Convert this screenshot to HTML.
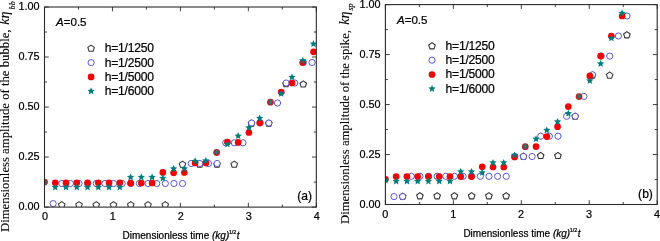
<!DOCTYPE html>
<html><head><meta charset="utf-8"><style>
html,body{margin:0;padding:0;background:#fff;}
body{width:660px;height:241px;overflow:hidden;}
svg{display:block;}
svg{will-change:transform;}
text{font-family:"Liberation Sans",sans-serif;fill:#000;stroke:#000;stroke-width:0.22px;}
.tl{font-size:10.85px;}
.lg{font-size:12.1px;letter-spacing:-0.22px;}
.an{font-size:11.6px;letter-spacing:-0.05px;}
.tag{font-size:12.1px;}
.xl{font-size:10px;}
.sup{font-size:5.7px;letter-spacing:-0.2px;}
.yl{font-family:"Liberation Serif",serif;font-size:12.6px;stroke-width:0.08px;}
.yk{font-family:"Liberation Serif",serif;font-style:italic;font-size:14.0px;stroke-width:0.12px;}
.ys{font-family:"Liberation Serif",serif;font-style:italic;font-size:8.2px;stroke-width:0.15px;}
</style></head><body>
<svg width="660" height="241" viewBox="0 0 660 241">
<rect width="660" height="241" fill="#fff"/>
<clipPath id="clipL"><rect x="44.50" y="7.00" width="271.80" height="200.10"/></clipPath>
<path d="M44.50 207.10V202.80M44.50 7.00V11.30M78.47 207.10V204.60M78.47 7.00V9.50M112.45 207.10V202.80M112.45 7.00V11.30M146.43 207.10V204.60M146.43 7.00V9.50M180.40 207.10V202.80M180.40 7.00V11.30M214.38 207.10V204.60M214.38 7.00V9.50M248.35 207.10V202.80M248.35 7.00V11.30M282.33 207.10V204.60M282.33 7.00V9.50M316.30 207.10V202.80M316.30 7.00V11.30M44.50 207.10H48.80M316.30 207.10H312.00M44.50 182.09H47.00M316.30 182.09H313.80M44.50 157.07H48.80M316.30 157.07H312.00M44.50 132.06H47.00M316.30 132.06H313.80M44.50 107.05H48.80M316.30 107.05H312.00M44.50 82.04H47.00M316.30 82.04H313.80M44.50 57.03H48.80M316.30 57.03H312.00M44.50 32.01H47.00M316.30 32.01H313.80M44.50 7.00H48.80M316.30 7.00H312.00" stroke="#2a2a2a" stroke-width="0.9" fill="none"/>
<g clip-path="url(#clipL)">
<polygon points="61.75,201.55 65.03,203.93 63.78,207.79 59.72,207.79 58.47,203.93" fill="#fff" stroke="#303030" stroke-width="1.05" stroke-linejoin="round"/>
<polygon points="79.00,201.55 82.28,203.93 81.03,207.79 76.97,207.79 75.72,203.93" fill="#fff" stroke="#303030" stroke-width="1.05" stroke-linejoin="round"/>
<polygon points="96.25,201.55 99.53,203.93 98.28,207.79 94.22,207.79 92.97,203.93" fill="#fff" stroke="#303030" stroke-width="1.05" stroke-linejoin="round"/>
<polygon points="113.50,201.55 116.78,203.93 115.53,207.79 111.47,207.79 110.22,203.93" fill="#fff" stroke="#303030" stroke-width="1.05" stroke-linejoin="round"/>
<polygon points="130.75,201.55 134.03,203.93 132.78,207.79 128.72,207.79 127.47,203.93" fill="#fff" stroke="#303030" stroke-width="1.05" stroke-linejoin="round"/>
<polygon points="148.00,201.55 151.28,203.93 150.03,207.79 145.97,207.79 144.72,203.93" fill="#fff" stroke="#303030" stroke-width="1.05" stroke-linejoin="round"/>
<polygon points="165.25,201.55 168.53,203.93 167.28,207.79 163.22,207.79 161.97,203.93" fill="#fff" stroke="#303030" stroke-width="1.05" stroke-linejoin="round"/>
<polygon points="182.50,161.05 185.78,163.43 184.53,167.29 180.47,167.29 179.22,163.43" fill="#fff" stroke="#303030" stroke-width="1.05" stroke-linejoin="round"/>
<polygon points="199.75,161.05 203.03,163.43 201.78,167.29 197.72,167.29 196.47,163.43" fill="#fff" stroke="#303030" stroke-width="1.05" stroke-linejoin="round"/>
<polygon points="217.00,161.05 220.28,163.43 219.03,167.29 214.97,167.29 213.72,163.43" fill="#fff" stroke="#303030" stroke-width="1.05" stroke-linejoin="round"/>
<polygon points="234.25,161.05 237.53,163.43 236.28,167.29 232.22,167.29 230.97,163.43" fill="#fff" stroke="#303030" stroke-width="1.05" stroke-linejoin="round"/>
<polygon points="251.50,120.05 254.78,122.43 253.53,126.29 249.47,126.29 248.22,122.43" fill="#fff" stroke="#303030" stroke-width="1.05" stroke-linejoin="round"/>
<polygon points="268.75,120.05 272.03,122.43 270.78,126.29 266.72,126.29 265.47,122.43" fill="#fff" stroke="#303030" stroke-width="1.05" stroke-linejoin="round"/>
<polygon points="286.00,80.55 289.28,82.93 288.03,86.79 283.97,86.79 282.72,82.93" fill="#fff" stroke="#303030" stroke-width="1.05" stroke-linejoin="round"/>
<polygon points="303.25,80.85 306.53,83.23 305.28,87.09 301.22,87.09 299.97,83.23" fill="#fff" stroke="#303030" stroke-width="1.05" stroke-linejoin="round"/>
<circle cx="53.13" cy="203.60" r="3.10" fill="#fff" stroke="#4646c8" stroke-width="0.9"/>
<circle cx="61.76" cy="183.50" r="3.10" fill="#fff" stroke="#4646c8" stroke-width="0.9"/>
<circle cx="70.39" cy="183.50" r="3.10" fill="#fff" stroke="#4646c8" stroke-width="0.9"/>
<circle cx="79.02" cy="183.50" r="3.10" fill="#fff" stroke="#4646c8" stroke-width="0.9"/>
<circle cx="87.65" cy="183.50" r="3.10" fill="#fff" stroke="#4646c8" stroke-width="0.9"/>
<circle cx="96.28" cy="183.50" r="3.10" fill="#fff" stroke="#4646c8" stroke-width="0.9"/>
<circle cx="104.91" cy="183.50" r="3.10" fill="#fff" stroke="#4646c8" stroke-width="0.9"/>
<circle cx="113.54" cy="183.50" r="3.10" fill="#fff" stroke="#4646c8" stroke-width="0.9"/>
<circle cx="122.17" cy="183.50" r="3.10" fill="#fff" stroke="#4646c8" stroke-width="0.9"/>
<circle cx="130.80" cy="183.50" r="3.10" fill="#fff" stroke="#4646c8" stroke-width="0.9"/>
<circle cx="139.43" cy="183.50" r="3.10" fill="#fff" stroke="#4646c8" stroke-width="0.9"/>
<circle cx="148.06" cy="183.50" r="3.10" fill="#fff" stroke="#4646c8" stroke-width="0.9"/>
<circle cx="156.69" cy="183.50" r="3.10" fill="#fff" stroke="#4646c8" stroke-width="0.9"/>
<circle cx="165.32" cy="183.50" r="3.10" fill="#fff" stroke="#4646c8" stroke-width="0.9"/>
<circle cx="173.95" cy="183.50" r="3.10" fill="#fff" stroke="#4646c8" stroke-width="0.9"/>
<circle cx="182.58" cy="183.50" r="3.10" fill="#fff" stroke="#4646c8" stroke-width="0.9"/>
<circle cx="191.21" cy="163.50" r="3.10" fill="#fff" stroke="#4646c8" stroke-width="0.9"/>
<circle cx="199.84" cy="163.50" r="3.10" fill="#fff" stroke="#4646c8" stroke-width="0.9"/>
<circle cx="208.47" cy="163.50" r="3.10" fill="#fff" stroke="#4646c8" stroke-width="0.9"/>
<circle cx="217.10" cy="163.50" r="3.10" fill="#fff" stroke="#4646c8" stroke-width="0.9"/>
<circle cx="225.73" cy="142.80" r="3.10" fill="#fff" stroke="#4646c8" stroke-width="0.9"/>
<circle cx="234.36" cy="142.80" r="3.10" fill="#fff" stroke="#4646c8" stroke-width="0.9"/>
<circle cx="242.99" cy="142.80" r="3.10" fill="#fff" stroke="#4646c8" stroke-width="0.9"/>
<circle cx="251.62" cy="123.00" r="3.10" fill="#fff" stroke="#4646c8" stroke-width="0.9"/>
<circle cx="260.25" cy="123.00" r="3.10" fill="#fff" stroke="#4646c8" stroke-width="0.9"/>
<circle cx="268.88" cy="123.00" r="3.10" fill="#fff" stroke="#4646c8" stroke-width="0.9"/>
<circle cx="277.51" cy="103.00" r="3.10" fill="#fff" stroke="#4646c8" stroke-width="0.9"/>
<circle cx="286.14" cy="83.00" r="3.10" fill="#fff" stroke="#4646c8" stroke-width="0.9"/>
<circle cx="294.77" cy="83.00" r="3.10" fill="#fff" stroke="#4646c8" stroke-width="0.9"/>
<circle cx="303.40" cy="62.50" r="3.10" fill="#fff" stroke="#4646c8" stroke-width="0.9"/>
<circle cx="312.03" cy="62.50" r="3.10" fill="#fff" stroke="#4646c8" stroke-width="0.9"/>
<circle cx="44.50" cy="182.00" r="3.35" fill="#f00000"/>
<circle cx="55.26" cy="182.80" r="3.35" fill="#f00000"/>
<circle cx="66.02" cy="182.80" r="3.35" fill="#f00000"/>
<circle cx="76.78" cy="182.80" r="3.35" fill="#f00000"/>
<circle cx="87.54" cy="182.80" r="3.35" fill="#f00000"/>
<circle cx="98.30" cy="182.80" r="3.35" fill="#f00000"/>
<circle cx="109.06" cy="182.80" r="3.35" fill="#f00000"/>
<circle cx="119.82" cy="182.80" r="3.35" fill="#f00000"/>
<circle cx="130.58" cy="183.20" r="3.35" fill="#f00000"/>
<circle cx="141.34" cy="183.00" r="3.35" fill="#f00000"/>
<circle cx="152.10" cy="183.00" r="3.35" fill="#f00000"/>
<circle cx="162.86" cy="172.40" r="3.35" fill="#f00000"/>
<circle cx="173.62" cy="172.80" r="3.35" fill="#f00000"/>
<circle cx="184.38" cy="172.50" r="3.35" fill="#f00000"/>
<circle cx="195.14" cy="163.00" r="3.35" fill="#f00000"/>
<circle cx="205.90" cy="163.00" r="3.35" fill="#f00000"/>
<circle cx="227.42" cy="142.00" r="3.35" fill="#f00000"/>
<circle cx="238.18" cy="142.40" r="3.35" fill="#f00000"/>
<circle cx="248.94" cy="132.50" r="3.35" fill="#f00000"/>
<circle cx="259.70" cy="122.80" r="3.35" fill="#f00000"/>
<circle cx="281.22" cy="92.00" r="3.35" fill="#f00000"/>
<circle cx="291.98" cy="83.00" r="3.35" fill="#f00000"/>
<circle cx="302.74" cy="62.50" r="3.35" fill="#f00000"/>
<circle cx="313.50" cy="51.80" r="3.35" fill="#f00000"/>
<polygon points="44.50,178.45 45.56,180.84 48.16,181.11 46.22,182.86 46.76,185.41 44.50,184.11 42.24,185.41 42.78,182.86 40.84,181.11 43.44,180.84" fill="#007b7b"/>
<polygon points="55.26,183.45 56.32,185.84 58.92,186.11 56.98,187.86 57.52,190.41 55.26,189.11 53.00,190.41 53.54,187.86 51.60,186.11 54.20,185.84" fill="#007b7b"/>
<polygon points="66.02,183.45 67.08,185.84 69.68,186.11 67.74,187.86 68.28,190.41 66.02,189.11 63.76,190.41 64.30,187.86 62.36,186.11 64.96,185.84" fill="#007b7b"/>
<polygon points="76.78,183.45 77.84,185.84 80.44,186.11 78.50,187.86 79.04,190.41 76.78,189.11 74.52,190.41 75.06,187.86 73.12,186.11 75.72,185.84" fill="#007b7b"/>
<polygon points="87.54,183.45 88.60,185.84 91.20,186.11 89.26,187.86 89.80,190.41 87.54,189.11 85.28,190.41 85.82,187.86 83.88,186.11 86.48,185.84" fill="#007b7b"/>
<polygon points="98.30,183.45 99.36,185.84 101.96,186.11 100.02,187.86 100.56,190.41 98.30,189.11 96.04,190.41 96.58,187.86 94.64,186.11 97.24,185.84" fill="#007b7b"/>
<polygon points="109.06,183.45 110.12,185.84 112.72,186.11 110.78,187.86 111.32,190.41 109.06,189.11 106.80,190.41 107.34,187.86 105.40,186.11 108.00,185.84" fill="#007b7b"/>
<polygon points="119.82,183.45 120.88,185.84 123.48,186.11 121.54,187.86 122.08,190.41 119.82,189.11 117.56,190.41 118.10,187.86 116.16,186.11 118.76,185.84" fill="#007b7b"/>
<polygon points="130.58,173.45 131.64,175.84 134.24,176.11 132.30,177.86 132.84,180.41 130.58,179.11 128.32,180.41 128.86,177.86 126.92,176.11 129.52,175.84" fill="#007b7b"/>
<polygon points="141.34,173.45 142.40,175.84 145.00,176.11 143.06,177.86 143.60,180.41 141.34,179.11 139.08,180.41 139.62,177.86 137.68,176.11 140.28,175.84" fill="#007b7b"/>
<polygon points="152.10,173.45 153.16,175.84 155.76,176.11 153.82,177.86 154.36,180.41 152.10,179.11 149.84,180.41 150.38,177.86 148.44,176.11 151.04,175.84" fill="#007b7b"/>
<polygon points="162.86,174.45 163.92,176.84 166.52,177.11 164.58,178.86 165.12,181.41 162.86,180.11 160.60,181.41 161.14,178.86 159.20,177.11 161.80,176.84" fill="#007b7b"/>
<polygon points="173.62,164.95 174.68,167.34 177.28,167.61 175.34,169.36 175.88,171.91 173.62,170.61 171.36,171.91 171.90,169.36 169.96,167.61 172.56,167.34" fill="#007b7b"/>
<polygon points="184.38,164.95 185.44,167.34 188.04,167.61 186.10,169.36 186.64,171.91 184.38,170.61 182.12,171.91 182.66,169.36 180.72,167.61 183.32,167.34" fill="#007b7b"/>
<polygon points="195.14,157.25 196.20,159.64 198.80,159.91 196.86,161.66 197.40,164.21 195.14,162.91 192.88,164.21 193.42,161.66 191.48,159.91 194.08,159.64" fill="#007b7b"/>
<polygon points="205.90,156.95 206.96,159.34 209.56,159.61 207.62,161.36 208.16,163.91 205.90,162.61 203.64,163.91 204.18,161.36 202.24,159.61 204.84,159.34" fill="#007b7b"/>
<polygon points="227.42,140.45 228.48,142.84 231.08,143.11 229.14,144.86 229.68,147.41 227.42,146.11 225.16,147.41 225.70,144.86 223.76,143.11 226.36,142.84" fill="#007b7b"/>
<polygon points="238.18,132.05 239.24,134.44 241.84,134.71 239.90,136.46 240.44,139.01 238.18,137.71 235.92,139.01 236.46,136.46 234.52,134.71 237.12,134.44" fill="#007b7b"/>
<polygon points="248.94,123.95 250.00,126.34 252.60,126.61 250.66,128.36 251.20,130.91 248.94,129.61 246.68,130.91 247.22,128.36 245.28,126.61 247.88,126.34" fill="#007b7b"/>
<polygon points="259.70,114.45 260.76,116.84 263.36,117.11 261.42,118.86 261.96,121.41 259.70,120.11 257.44,121.41 257.98,118.86 256.04,117.11 258.64,116.84" fill="#007b7b"/>
<polygon points="281.22,89.85 282.28,92.24 284.88,92.51 282.94,94.26 283.48,96.81 281.22,95.51 278.96,96.81 279.50,94.26 277.56,92.51 280.16,92.24" fill="#007b7b"/>
<polygon points="291.98,73.45 293.04,75.84 295.64,76.11 293.70,77.86 294.24,80.41 291.98,79.11 289.72,80.41 290.26,77.86 288.32,76.11 290.92,75.84" fill="#007b7b"/>
<polygon points="302.74,56.85 303.80,59.24 306.40,59.51 304.46,61.26 305.00,63.81 302.74,62.51 300.48,63.81 301.02,61.26 299.08,59.51 301.68,59.24" fill="#007b7b"/>
<polygon points="313.50,40.05 314.56,42.44 317.16,42.71 315.22,44.46 315.76,47.01 313.50,45.71 311.24,47.01 311.78,44.46 309.84,42.71 312.44,42.44" fill="#007b7b"/>
<circle cx="216.66" cy="152.50" r="3.40" fill="#a82a2e"/>
<ellipse cx="216.66" cy="152.20" rx="1.5" ry="2.1" fill="#178282"/>
<circle cx="270.46" cy="102.20" r="3.40" fill="#a82a2e"/>
<ellipse cx="270.46" cy="101.90" rx="1.5" ry="2.1" fill="#178282"/>
</g>
<rect x="44.50" y="7.00" width="271.80" height="200.10" fill="none" stroke="#2a2a2a" stroke-width="1.1"/>
<text x="44.90" y="220.00" class="tl" text-anchor="middle">0</text>
<text x="112.85" y="220.00" class="tl" text-anchor="middle">1</text>
<text x="180.80" y="220.00" class="tl" text-anchor="middle">2</text>
<text x="248.75" y="220.00" class="tl" text-anchor="middle">3</text>
<text x="316.70" y="220.00" class="tl" text-anchor="middle">4</text>
<text x="39.60" y="210.00" class="tl" text-anchor="end">0.00</text>
<text x="39.60" y="159.97" class="tl" text-anchor="end">0.25</text>
<text x="39.60" y="109.95" class="tl" text-anchor="end">0.50</text>
<text x="39.60" y="59.93" class="tl" text-anchor="end">0.75</text>
<text x="39.60" y="9.90" class="tl" text-anchor="end">1.00</text>
<text x="122.50" y="239.40" class="xl">Dimensionless time <tspan font-style="italic">(kg)</tspan><tspan class="sup" dy="-5.2" dx="-0.3">1/2</tspan><tspan dy="5.2" dx="0.6" font-style="italic">t</tspan></text>
<text transform="translate(8.80,232.00) rotate(-90)" class="yl" textLength="202.5" lengthAdjust="spacingAndGlyphs">Dimensionless amplitude of the bubble,</text>
<text transform="translate(9.00,24.80) rotate(-90)" class="yk">k&#951;</text>
<text transform="translate(15.20,9.40) rotate(-90)" class="ys">bb</text>
<text x="56.10" y="26.20" class="an"><tspan font-style="italic">A</tspan>=0.5</text>
<polygon points="91.10,45.05 94.38,47.43 93.13,51.29 89.07,51.29 87.82,47.43" fill="#fff" stroke="#303030" stroke-width="1.05" stroke-linejoin="round"/>
<text x="104.70" y="52.20" class="lg">h=1/1250</text>
<circle cx="91.10" cy="62.60" r="3.10" fill="#fff" stroke="#4646c8" stroke-width="0.9"/>
<text x="104.70" y="66.50" class="lg">h=1/2500</text>
<circle cx="91.10" cy="76.90" r="3.35" fill="#f00000"/>
<text x="104.70" y="80.80" class="lg">h=1/5000</text>
<polygon points="91.10,87.35 92.16,89.74 94.76,90.01 92.82,91.76 93.36,94.31 91.10,93.01 88.84,94.31 89.38,91.76 87.44,90.01 90.04,89.74" fill="#007b7b"/>
<text x="104.70" y="95.10" class="lg">h=1/6000</text>
<text x="312.00" y="200.20" class="tag" text-anchor="end">(a)</text>
<clipPath id="clipR"><rect x="385.40" y="4.60" width="271.80" height="199.90"/></clipPath>
<path d="M385.40 204.50V200.20M385.40 4.60V8.90M419.38 204.50V202.00M419.38 4.60V7.10M453.35 204.50V200.20M453.35 4.60V8.90M487.32 204.50V202.00M487.32 4.60V7.10M521.30 204.50V200.20M521.30 4.60V8.90M555.28 204.50V202.00M555.28 4.60V7.10M589.25 204.50V200.20M589.25 4.60V8.90M623.23 204.50V202.00M623.23 4.60V7.10M657.20 204.50V200.20M657.20 4.60V8.90M385.40 204.50H389.70M657.20 204.50H652.90M385.40 179.51H387.90M657.20 179.51H654.70M385.40 154.53H389.70M657.20 154.53H652.90M385.40 129.54H387.90M657.20 129.54H654.70M385.40 104.55H389.70M657.20 104.55H652.90M385.40 79.56H387.90M657.20 79.56H654.70M385.40 54.57H389.70M657.20 54.57H652.90M385.40 29.59H387.90M657.20 29.59H654.70M385.40 4.60H389.70M657.20 4.60H652.90" stroke="#2a2a2a" stroke-width="0.9" fill="none"/>
<g clip-path="url(#clipR)">
<polygon points="402.65,193.05 405.93,195.43 404.68,199.29 400.62,199.29 399.37,195.43" fill="#fff" stroke="#303030" stroke-width="1.05" stroke-linejoin="round"/>
<polygon points="419.90,192.65 423.18,195.03 421.93,198.89 417.87,198.89 416.62,195.03" fill="#fff" stroke="#303030" stroke-width="1.05" stroke-linejoin="round"/>
<polygon points="437.15,192.65 440.43,195.03 439.18,198.89 435.12,198.89 433.87,195.03" fill="#fff" stroke="#303030" stroke-width="1.05" stroke-linejoin="round"/>
<polygon points="454.40,192.65 457.68,195.03 456.43,198.89 452.37,198.89 451.12,195.03" fill="#fff" stroke="#303030" stroke-width="1.05" stroke-linejoin="round"/>
<polygon points="471.65,192.65 474.93,195.03 473.68,198.89 469.62,198.89 468.37,195.03" fill="#fff" stroke="#303030" stroke-width="1.05" stroke-linejoin="round"/>
<polygon points="488.90,192.65 492.18,195.03 490.93,198.89 486.87,198.89 485.62,195.03" fill="#fff" stroke="#303030" stroke-width="1.05" stroke-linejoin="round"/>
<polygon points="506.15,192.65 509.43,195.03 508.18,198.89 504.12,198.89 502.87,195.03" fill="#fff" stroke="#303030" stroke-width="1.05" stroke-linejoin="round"/>
<polygon points="523.40,153.05 526.68,155.43 525.43,159.29 521.37,159.29 520.12,155.43" fill="#fff" stroke="#303030" stroke-width="1.05" stroke-linejoin="round"/>
<polygon points="540.65,152.35 543.93,154.73 542.68,158.59 538.62,158.59 537.37,154.73" fill="#fff" stroke="#303030" stroke-width="1.05" stroke-linejoin="round"/>
<polygon points="557.90,152.35 561.18,154.73 559.93,158.59 555.87,158.59 554.62,154.73" fill="#fff" stroke="#303030" stroke-width="1.05" stroke-linejoin="round"/>
<polygon points="575.15,113.05 578.43,115.43 577.18,119.29 573.12,119.29 571.87,115.43" fill="#fff" stroke="#303030" stroke-width="1.05" stroke-linejoin="round"/>
<polygon points="592.40,72.05 595.68,74.43 594.43,78.29 590.37,78.29 589.12,74.43" fill="#fff" stroke="#303030" stroke-width="1.05" stroke-linejoin="round"/>
<polygon points="609.65,71.95 612.93,74.33 611.68,78.19 607.62,78.19 606.37,74.33" fill="#fff" stroke="#303030" stroke-width="1.05" stroke-linejoin="round"/>
<polygon points="626.90,31.65 630.18,34.03 628.93,37.89 624.87,37.89 623.62,34.03" fill="#fff" stroke="#303030" stroke-width="1.05" stroke-linejoin="round"/>
<circle cx="394.03" cy="196.60" r="3.10" fill="#fff" stroke="#4646c8" stroke-width="0.9"/>
<circle cx="402.66" cy="196.60" r="3.10" fill="#fff" stroke="#4646c8" stroke-width="0.9"/>
<circle cx="411.29" cy="176.30" r="3.10" fill="#fff" stroke="#4646c8" stroke-width="0.9"/>
<circle cx="419.92" cy="176.30" r="3.10" fill="#fff" stroke="#4646c8" stroke-width="0.9"/>
<circle cx="428.55" cy="176.30" r="3.10" fill="#fff" stroke="#4646c8" stroke-width="0.9"/>
<circle cx="437.18" cy="176.30" r="3.10" fill="#fff" stroke="#4646c8" stroke-width="0.9"/>
<circle cx="445.81" cy="176.30" r="3.10" fill="#fff" stroke="#4646c8" stroke-width="0.9"/>
<circle cx="454.44" cy="176.30" r="3.10" fill="#fff" stroke="#4646c8" stroke-width="0.9"/>
<circle cx="463.07" cy="176.30" r="3.10" fill="#fff" stroke="#4646c8" stroke-width="0.9"/>
<circle cx="471.70" cy="176.30" r="3.10" fill="#fff" stroke="#4646c8" stroke-width="0.9"/>
<circle cx="480.33" cy="176.30" r="3.10" fill="#fff" stroke="#4646c8" stroke-width="0.9"/>
<circle cx="488.96" cy="176.30" r="3.10" fill="#fff" stroke="#4646c8" stroke-width="0.9"/>
<circle cx="497.59" cy="176.30" r="3.10" fill="#fff" stroke="#4646c8" stroke-width="0.9"/>
<circle cx="506.22" cy="176.30" r="3.10" fill="#fff" stroke="#4646c8" stroke-width="0.9"/>
<circle cx="514.85" cy="156.50" r="3.10" fill="#fff" stroke="#4646c8" stroke-width="0.9"/>
<circle cx="523.48" cy="156.50" r="3.10" fill="#fff" stroke="#4646c8" stroke-width="0.9"/>
<circle cx="532.11" cy="156.50" r="3.10" fill="#fff" stroke="#4646c8" stroke-width="0.9"/>
<circle cx="540.74" cy="136.20" r="3.10" fill="#fff" stroke="#4646c8" stroke-width="0.9"/>
<circle cx="549.37" cy="136.20" r="3.10" fill="#fff" stroke="#4646c8" stroke-width="0.9"/>
<circle cx="558.00" cy="136.20" r="3.10" fill="#fff" stroke="#4646c8" stroke-width="0.9"/>
<circle cx="566.63" cy="116.30" r="3.10" fill="#fff" stroke="#4646c8" stroke-width="0.9"/>
<circle cx="575.26" cy="116.30" r="3.10" fill="#fff" stroke="#4646c8" stroke-width="0.9"/>
<circle cx="583.89" cy="96.40" r="3.10" fill="#fff" stroke="#4646c8" stroke-width="0.9"/>
<circle cx="592.52" cy="74.80" r="3.10" fill="#fff" stroke="#4646c8" stroke-width="0.9"/>
<circle cx="601.15" cy="56.00" r="3.10" fill="#fff" stroke="#4646c8" stroke-width="0.9"/>
<circle cx="609.78" cy="56.10" r="3.10" fill="#fff" stroke="#4646c8" stroke-width="0.9"/>
<circle cx="618.41" cy="36.00" r="3.10" fill="#fff" stroke="#4646c8" stroke-width="0.9"/>
<circle cx="627.04" cy="16.00" r="3.10" fill="#fff" stroke="#4646c8" stroke-width="0.9"/>
<circle cx="385.40" cy="179.30" r="3.35" fill="#f00000"/>
<circle cx="396.16" cy="176.60" r="3.35" fill="#f00000"/>
<circle cx="406.92" cy="176.60" r="3.35" fill="#f00000"/>
<circle cx="417.68" cy="176.60" r="3.35" fill="#f00000"/>
<circle cx="428.44" cy="176.60" r="3.35" fill="#f00000"/>
<circle cx="439.20" cy="176.60" r="3.35" fill="#f00000"/>
<circle cx="449.96" cy="176.60" r="3.35" fill="#f00000"/>
<circle cx="460.72" cy="176.60" r="3.35" fill="#f00000"/>
<circle cx="471.48" cy="176.60" r="3.35" fill="#f00000"/>
<circle cx="482.24" cy="166.80" r="3.35" fill="#f00000"/>
<circle cx="493.00" cy="167.00" r="3.35" fill="#f00000"/>
<circle cx="503.76" cy="167.00" r="3.35" fill="#f00000"/>
<circle cx="514.52" cy="157.00" r="3.35" fill="#f00000"/>
<circle cx="536.04" cy="146.60" r="3.35" fill="#f00000"/>
<circle cx="546.80" cy="136.60" r="3.35" fill="#f00000"/>
<circle cx="557.56" cy="126.70" r="3.35" fill="#f00000"/>
<circle cx="568.32" cy="106.60" r="3.35" fill="#f00000"/>
<circle cx="589.84" cy="75.90" r="3.35" fill="#f00000"/>
<circle cx="600.60" cy="56.10" r="3.35" fill="#f00000"/>
<circle cx="611.36" cy="36.00" r="3.35" fill="#f00000"/>
<circle cx="622.12" cy="16.00" r="3.35" fill="#f00000"/>
<polygon points="385.40,176.45 386.46,178.84 389.06,179.11 387.12,180.86 387.66,183.41 385.40,182.11 383.14,183.41 383.68,180.86 381.74,179.11 384.34,178.84" fill="#007b7b"/>
<polygon points="396.16,177.45 397.22,179.84 399.82,180.11 397.88,181.86 398.42,184.41 396.16,183.11 393.90,184.41 394.44,181.86 392.50,180.11 395.10,179.84" fill="#007b7b"/>
<polygon points="406.92,177.45 407.98,179.84 410.58,180.11 408.64,181.86 409.18,184.41 406.92,183.11 404.66,184.41 405.20,181.86 403.26,180.11 405.86,179.84" fill="#007b7b"/>
<polygon points="417.68,177.45 418.74,179.84 421.34,180.11 419.40,181.86 419.94,184.41 417.68,183.11 415.42,184.41 415.96,181.86 414.02,180.11 416.62,179.84" fill="#007b7b"/>
<polygon points="428.44,177.45 429.50,179.84 432.10,180.11 430.16,181.86 430.70,184.41 428.44,183.11 426.18,184.41 426.72,181.86 424.78,180.11 427.38,179.84" fill="#007b7b"/>
<polygon points="439.20,177.45 440.26,179.84 442.86,180.11 440.92,181.86 441.46,184.41 439.20,183.11 436.94,184.41 437.48,181.86 435.54,180.11 438.14,179.84" fill="#007b7b"/>
<polygon points="449.96,177.45 451.02,179.84 453.62,180.11 451.68,181.86 452.22,184.41 449.96,183.11 447.70,184.41 448.24,181.86 446.30,180.11 448.90,179.84" fill="#007b7b"/>
<polygon points="460.72,167.85 461.78,170.24 464.38,170.51 462.44,172.26 462.98,174.81 460.72,173.51 458.46,174.81 459.00,172.26 457.06,170.51 459.66,170.24" fill="#007b7b"/>
<polygon points="471.48,167.95 472.54,170.34 475.14,170.61 473.20,172.36 473.74,174.91 471.48,173.61 469.22,174.91 469.76,172.36 467.82,170.61 470.42,170.34" fill="#007b7b"/>
<polygon points="482.24,168.85 483.30,171.24 485.90,171.51 483.96,173.26 484.50,175.81 482.24,174.51 479.98,175.81 480.52,173.26 478.58,171.51 481.18,171.24" fill="#007b7b"/>
<polygon points="493.00,158.95 494.06,161.34 496.66,161.61 494.72,163.36 495.26,165.91 493.00,164.61 490.74,165.91 491.28,163.36 489.34,161.61 491.94,161.34" fill="#007b7b"/>
<polygon points="503.76,158.95 504.82,161.34 507.42,161.61 505.48,163.36 506.02,165.91 503.76,164.61 501.50,165.91 502.04,163.36 500.10,161.61 502.70,161.34" fill="#007b7b"/>
<polygon points="514.52,151.45 515.58,153.84 518.18,154.11 516.24,155.86 516.78,158.41 514.52,157.11 512.26,158.41 512.80,155.86 510.86,154.11 513.46,153.84" fill="#007b7b"/>
<polygon points="536.04,135.15 537.10,137.54 539.70,137.81 537.76,139.56 538.30,142.11 536.04,140.81 533.78,142.11 534.32,139.56 532.38,137.81 534.98,137.54" fill="#007b7b"/>
<polygon points="546.80,126.45 547.86,128.84 550.46,129.11 548.52,130.86 549.06,133.41 546.80,132.11 544.54,133.41 545.08,130.86 543.14,129.11 545.74,128.84" fill="#007b7b"/>
<polygon points="557.56,117.95 558.62,120.34 561.22,120.61 559.28,122.36 559.82,124.91 557.56,123.61 555.30,124.91 555.84,122.36 553.90,120.61 556.50,120.34" fill="#007b7b"/>
<polygon points="568.32,109.65 569.38,112.04 571.98,112.31 570.04,114.06 570.58,116.61 568.32,115.31 566.06,116.61 566.60,114.06 564.66,112.31 567.26,112.04" fill="#007b7b"/>
<polygon points="589.84,76.95 590.90,79.34 593.50,79.61 591.56,81.36 592.10,83.91 589.84,82.61 587.58,83.91 588.12,81.36 586.18,79.61 588.78,79.34" fill="#007b7b"/>
<polygon points="600.60,59.95 601.66,62.34 604.26,62.61 602.32,64.36 602.86,66.91 600.60,65.61 598.34,66.91 598.88,64.36 596.94,62.61 599.54,62.34" fill="#007b7b"/>
<polygon points="611.36,34.25 612.42,36.64 615.02,36.91 613.08,38.66 613.62,41.21 611.36,39.91 609.10,41.21 609.64,38.66 607.70,36.91 610.30,36.64" fill="#007b7b"/>
<polygon points="622.12,9.25 623.18,11.64 625.78,11.91 623.84,13.66 624.38,16.21 622.12,14.91 619.86,16.21 620.40,13.66 618.46,11.91 621.06,11.64" fill="#007b7b"/>
<circle cx="525.28" cy="146.70" r="3.40" fill="#a82a2e"/>
<ellipse cx="525.28" cy="146.40" rx="1.5" ry="2.1" fill="#178282"/>
<circle cx="579.08" cy="96.60" r="3.40" fill="#a82a2e"/>
<ellipse cx="579.08" cy="96.30" rx="1.5" ry="2.1" fill="#178282"/>
</g>
<rect x="385.40" y="4.60" width="271.80" height="199.90" fill="none" stroke="#2a2a2a" stroke-width="1.1"/>
<text x="385.20" y="217.90" class="tl" text-anchor="middle">0</text>
<text x="453.15" y="217.90" class="tl" text-anchor="middle">1</text>
<text x="521.10" y="217.90" class="tl" text-anchor="middle">2</text>
<text x="589.05" y="217.90" class="tl" text-anchor="middle">3</text>
<text x="657.00" y="217.90" class="tl" text-anchor="middle">4</text>
<text x="380.50" y="208.10" class="tl" text-anchor="end">0.00</text>
<text x="380.50" y="158.12" class="tl" text-anchor="end">0.25</text>
<text x="380.50" y="108.15" class="tl" text-anchor="end">0.50</text>
<text x="380.50" y="58.17" class="tl" text-anchor="end">0.75</text>
<text x="380.50" y="8.20" class="tl" text-anchor="end">1.00</text>
<text x="463.40" y="236.80" class="xl">Dimensionless time <tspan font-style="italic">(kg)</tspan><tspan class="sup" dy="-5.2" dx="-0.3">1/2</tspan><tspan dy="5.2" dx="0.6" font-style="italic">t</tspan></text>
<text transform="translate(349.00,223.90) rotate(-90)" class="yl" textLength="193.9" lengthAdjust="spacingAndGlyphs">Dimensionless amplitude of the spike,</text>
<text transform="translate(349.20,24.80) rotate(-90)" class="yk">k&#951;</text>
<text transform="translate(352.60,10.60) rotate(-90)" class="ys">sp</text>
<text x="397.00" y="23.80" class="an"><tspan font-style="italic">A</tspan>=0.5</text>
<polygon points="432.00,42.65 435.28,45.03 434.03,48.89 429.97,48.89 428.72,45.03" fill="#fff" stroke="#303030" stroke-width="1.05" stroke-linejoin="round"/>
<text x="445.60" y="49.80" class="lg">h=1/1250</text>
<circle cx="432.00" cy="60.20" r="3.10" fill="#fff" stroke="#4646c8" stroke-width="0.9"/>
<text x="445.60" y="64.10" class="lg">h=1/2500</text>
<circle cx="432.00" cy="74.50" r="3.35" fill="#f00000"/>
<text x="445.60" y="78.40" class="lg">h=1/5000</text>
<polygon points="432.00,84.95 433.06,87.34 435.66,87.61 433.72,89.36 434.26,91.91 432.00,90.61 429.74,91.91 430.28,89.36 428.34,87.61 430.94,87.34" fill="#007b7b"/>
<text x="445.60" y="92.70" class="lg">h=1/6000</text>
<text x="652.90" y="197.60" class="tag" text-anchor="end">(b)</text>
</svg>
</body></html>
